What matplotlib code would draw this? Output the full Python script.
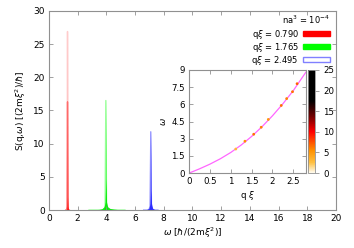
import numpy as np
import matplotlib
matplotlib.use('Agg')
from matplotlib import pyplot as plt
from matplotlib.colors import LinearSegmentedColormap
from matplotlib.patches import Patch

# main panel: S(q, w) spectra
w_red = [1.18, 1.24, 1.27, 1.30, 1.33, 1.36, 1.42]
s_red_tall = [0.0, 0.1, 0.6, 26.9, 0.6, 0.1, 0.0]
s_red_mid = [0.0, 0.1, 0.5, 16.3, 0.5, 0.1, 0.0]
s_red_low = [0.0, 0.1, 0.3, 2.0, 0.3, 0.1, 0.0]

w_green = [2.8, 3.2, 3.5, 3.7, 3.85, 3.92, 3.97, 4.02, 4.1, 4.25, 4.5, 4.9, 5.3]
s_green_tall = [0.0, 0.0, 0.0, 0.0, 0.1, 0.6, 16.5, 0.6, 0.1, 0.0, 0.0, 0.0, 0.0]
s_green_low = [0.0, 0.05, 0.1, 0.2, 0.5, 1.2, 4.7, 1.2, 0.5, 0.25, 0.15, 0.05, 0.0]

w_blue = [6.6, 6.85, 6.98, 7.05, 7.10, 7.15, 7.22, 7.35, 7.6]
s_blue_tall = [0.0, 0.0, 0.1, 0.6, 11.8, 0.6, 0.1, 0.0, 0.0]
s_blue_low = [0.0, 0.1, 0.3, 1.0, 3.0, 1.0, 0.3, 0.1, 0.0]

legend_labels = [r'q$\xi$ = 0.790', r'q$\xi$ = 1.765', r'q$\xi$ = 2.495']

# inset: dispersion curve and peak positions
q_curve = [0.0, 0.25, 0.5, 0.75, 1.0, 1.25, 1.5, 1.75, 2.0, 2.25, 2.5, 2.8]
w_curve = [0.0, 0.37, 0.78, 1.25, 1.8, 2.45, 3.2, 4.05, 5.0, 6.05, 7.2, 8.8]
q_dots = [1.12, 1.34, 1.55, 1.73, 1.90, 2.21, 2.34, 2.48, 2.59]
w_dots = [2.1, 2.78, 3.39, 4.0, 4.68, 5.9, 6.5, 7.1, 7.8]
c_dots = [3.0, 5.5, 6.5, 6.0, 5.0, 6.5, 6.0, 6.5, 7.0]

plt.rcParams['font.family'] = ['DejaVu Sans']
plt.rcParams['font.size'] = 6.5

grey = '#909090'


def style(ax, size=6.5):
    for sp in ax.spines.values():
        sp.set_color(grey)
        sp.set_linewidth(0.8)
    ax.tick_params(direction='in', top=True, right=True, color=grey,
                   length=3, width=0.6, labelsize=size, pad=3)


fig = plt.figure(figsize=(3.54, 2.48), dpi=100)
ax = fig.add_axes([0.138, 0.153, 0.811, 0.803])
style(ax)

ax.fill_between(w_red, s_red_tall, color='#ff0000', alpha=0.2, lw=0)
ax.fill_between(w_red, s_red_mid, color='#ff0000', alpha=0.45, lw=0)
ax.fill_between(w_red, s_red_low, color='#ff0000', alpha=0.9, lw=0)
ax.plot(w_red, s_red_tall, color='#ff0000', alpha=0.2, lw=1.0)
ax.plot(w_red, s_red_mid, color='#ff0000', alpha=0.45, lw=1.0)

ax.fill_between(w_green, s_green_tall, color='#00ff00', alpha=0.4, lw=0)
ax.plot(w_green, s_green_tall, color='#00ff00', alpha=0.4, lw=1.0)
ax.fill_between(w_green, s_green_low, color='#00dd00', alpha=0.9, lw=0)

ax.fill_between(w_blue, s_blue_tall, color='#3030ff', alpha=0.55, lw=0)
ax.plot(w_blue, s_blue_tall, color='#3030ff', alpha=0.55, lw=0.9)
ax.fill_between(w_blue, s_blue_low, color='#2020ff', alpha=0.9, lw=0)

ax.set_xlim(0, 20)
ax.set_ylim(0, 30)
ax.set_xticks(range(0, 21, 2))
ax.set_yticks(range(0, 31, 5))
ax.set_xlabel(r'$\omega$ [$\hbar$/(2m$\xi^2$)]', fontsize=6.5, labelpad=2)
ax.set_ylabel(r'S(q,$\omega$) [(2m$\xi^2$)/$\hbar$]', fontsize=6.5, labelpad=4)

handles = [Patch(facecolor='#ff0000', edgecolor='#ff0000'),
           Patch(facecolor='white', edgecolor='#00ff00'),
           Patch(facecolor='white', edgecolor='#8080ff')]
handles[1].set_facecolor('#00ff00')
leg = ax.legend(handles, legend_labels, title=r'na$^3$ = 10$^{-4}$',
                loc='upper right', bbox_to_anchor=(0.995, 1.01),
                frameon=False, markerfirst=False, fontsize=6,
                title_fontsize=6, handlelength=3.2, handleheight=0.5,
                labelspacing=0.0, borderpad=0.1, handletextpad=0.5)
leg._legend_box.align = 'right'
leg._legend_box.sep = 1

# inset
cmap = LinearSegmentedColormap.from_list(
    'hotr', [(0.0, '#fffbf0'), (0.1, '#ffc040'), (0.22, '#ff9000'),
             (0.4, '#ff0000'), (0.55, '#700000'), (0.7, '#000000'),
             (1.0, '#000000')])
ins = fig.add_axes([0.534, 0.302, 0.330, 0.416])
style(ins, 6.2)
ins.plot(q_curve, w_curve, color='#ff66ff', lw=0.9)
sc = ins.scatter(q_dots, w_dots, c=c_dots, cmap=cmap, vmin=0, vmax=25,
                 s=4, zorder=3, lw=0)
ins.set_xlim(0, 2.8)
ins.set_ylim(0, 9)
ins.set_xticks([0, 0.5, 1, 1.5, 2, 2.5])
ins.set_xticklabels(['0', '0.5', '1', '1.5', '2', '2.5'])
ins.set_yticks([0, 1.5, 3, 4.5, 6, 7.5, 9])
ins.set_yticklabels(['0', '1.5', '3', '4.5', '6', '7.5', '9'])
ins.set_xlabel(r'q $\xi$', fontsize=6.2, labelpad=2)
ins.set_ylabel(r'$\omega$', fontsize=6.2, labelpad=2, rotation=90)

cax = fig.add_axes([0.870, 0.302, 0.020, 0.416])
cb = fig.colorbar(sc, cax=cax, ticks=range(0, 26, 5))
cb.outline.set_edgecolor(grey)
cb.outline.set_linewidth(0.6)
cax.tick_params(direction='out', color=grey, length=3, width=0.6,
                labelsize=6.2, pad=3)

fig.savefig('out.png', dpi=100)
